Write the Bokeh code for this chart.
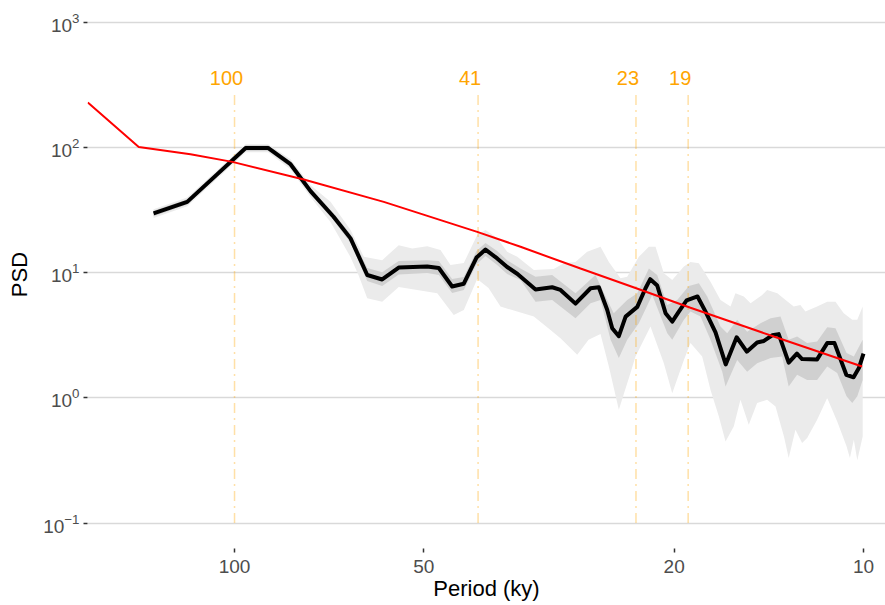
from bokeh.core.properties import value
from bokeh.embed import file_html
from bokeh.models import FixedTicker, PrintfTickFormatter, Range1d
from bokeh.plotting import figure
from bokeh.resources import INLINE

# spectral estimate (period in ky, PSD)
black_period = [134.5, 118.9, 106.8, 96.0, 88.46, 81.47, 75.71, 69.59, 65.39, 61.52,
                58.24, 54.82, 49.39, 47.34, 45.08, 43.20, 41.24, 39.90, 38.23, 36.86,
                35.49, 33.22, 31.26, 30.32, 28.70, 27.16, 26.35, 25.55, 25.09, 24.49,
                23.89, 22.89, 22.21, 21.83, 21.28, 20.64, 20.14, 19.66, 19.11, 18.36,
                17.83, 17.19, 16.56, 15.91, 15.33, 14.76, 14.40, 13.97, 13.64, 13.15,
                12.76, 12.52, 11.85, 11.42, 11.12, 10.65, 10.37, 10.17, 10.0]
black_psd = [29.8, 36.8, 60.5, 99.3, 99.3, 73.6, 44.8, 28.0, 18.8, 9.59,
             8.83, 11.0, 11.2, 10.9, 7.76, 8.17, 13.2, 15.3, 13.0, 11.1,
             9.76, 7.35, 7.65, 7.28, 5.66, 7.51, 7.65, 5.04, 3.60, 3.11,
             4.46, 5.33, 7.51, 8.88, 7.90, 4.75, 4.07, 4.89, 6.00, 6.46,
             4.89, 3.34, 1.85, 3.05, 2.34, 2.77, 2.85, 3.16, 3.23, 1.91,
             2.26, 2.04, 2.03, 2.74, 2.74, 1.53, 1.46, 1.73, 2.26]

# background (red)
red_period = [171.1, 142.0, 117.5, 100.8, 77.6, 57.9, 41.13, 35.10, 28.18, 23.04,
              18.84, 13.89, 10.05]
red_psd = [228.5, 101.1, 88.4, 76.8, 55.6, 36.8, 21.2, 16.1, 10.8, 7.55,
           5.25, 3.09, 1.78]

# outer (light) band
outer_hi_period = [134.5, 118.9, 96.0, 88.46, 81.47, 75.71, 70.37, 65.39, 62.29, 58.24,
                   54.82, 52.18, 49.39, 47.05, 45.36, 43.20, 41.13, 39.90, 38.23, 36.86,
                   35.52, 33.43, 31.08, 29.96, 28.70, 27.50, 26.19, 25.40, 24.34, 23.75,
                   22.76, 21.94, 21.41, 20.77, 20.14, 19.30, 18.84, 18.27, 17.51, 16.88,
                   16.27, 15.98, 15.50, 15.12, 14.49, 14.23, 13.71, 13.30, 12.91, 12.60,
                   12.37, 11.85, 11.42, 11.08, 10.75, 10.42, 10.23, 10.03]
outer_hi_psd = [32.2, 39.8, 106.2, 106.2, 80.7, 50.0, 36.8, 21.9, 13.4, 12.6,
                16.6, 15.6, 16.3, 15.2, 11.5, 11.95, 20.0, 21.9, 18.9, 14.7,
                13.4, 10.5, 10.7, 11.9, 12.2, 14.7, 16.1, 12.2, 9.02, 9.29,
                13.4, 16.1, 16.1, 9.89, 8.75, 11.2, 12.2, 11.9, 8.48, 6.06,
                5.36, 6.85, 6.44, 5.70, 6.64, 7.28, 6.85, 6.06, 5.36, 5.52,
                4.89, 5.36, 5.87, 5.87, 4.75, 4.20, 4.20, 5.36]
outer_lo_period = [134.5, 118.9, 96.0, 88.46, 81.47, 75.71, 70.37, 65.39, 63.52, 61.52,
                   58.24, 54.82, 47.61, 44.82, 43.20, 41.13, 39.46, 37.77, 33.43, 31.45,
                   30.32, 28.52, 27.36, 26.19, 25.40, 24.49, 23.47, 23.04, 21.81, 20.77,
                   20.14, 19.30, 18.84, 18.05, 17.51, 16.98, 16.57, 16.08, 15.69, 15.22,
                   14.76, 14.23, 13.80, 13.38, 13.15, 12.83, 12.52, 12.29, 11.85, 11.42,
                   11.01, 10.64, 10.51, 10.36, 10.23, 10.03]
outer_lo_psd = [27.3, 34.0, 91.7, 91.7, 67.1, 40.2, 25.4, 13.3, 9.59, 6.25,
                5.87, 7.69, 6.85, 4.60, 5.04, 8.91, 7.55, 5.36, 4.46, 3.49,
                3.00, 2.21, 2.91, 3.24, 1.78, 0.804, 1.58, 2.14, 3.71, 1.89,
                1.09, 2.01, 2.74, 2.14, 1.16, 0.711, 0.449, 0.591, 0.966, 0.610,
                0.909, 0.966, 0.854, 0.492, 0.331, 0.557, 0.436, 0.478, 0.669, 0.996,
                0.648, 0.410, 0.331, 0.463, 0.318, 0.492]

# inner (dark) band
inner_hi_period = [134.5, 118.9, 96.0, 88.46, 81.47, 75.71, 69.59, 65.39, 61.52, 58.24,
                   54.82, 49.39, 47.34, 45.08, 43.20, 41.24, 39.90, 38.23, 36.86, 35.10,
                   33.22, 31.26, 28.70, 26.68, 25.55, 24.95, 23.75, 22.89, 21.94, 21.28,
                   20.51, 19.78, 18.95, 18.27, 17.72, 16.88, 16.47, 15.88, 15.31, 14.58,
                   14.05, 13.55, 13.15, 12.75, 12.29, 11.85, 11.42, 11.08, 10.64, 10.36,
                   10.03]
inner_hi_psd = [31.3, 38.7, 104.3, 104.3, 77.8, 47.4, 29.9, 20.4, 10.9, 10.1,
                12.4, 12.6, 12.4, 8.91, 9.24, 14.9, 17.3, 14.9, 12.6, 10.8,
                9.29, 9.59, 6.85, 9.59, 6.06, 4.75, 6.06, 6.85, 10.8, 9.59,
                5.52, 6.06, 7.83, 8.23, 6.44, 3.71, 3.29, 4.20, 3.38, 3.95,
                4.33, 4.46, 2.91, 3.09, 2.74, 2.82, 3.67, 3.60, 2.28, 2.14,
                2.91]
inner_lo_period = [134.5, 118.9, 96.0, 88.46, 81.47, 75.71, 69.59, 65.39, 61.52, 58.24,
                   54.82, 49.39, 47.34, 45.08, 43.20, 41.24, 39.90, 38.23, 36.86, 35.10,
                   33.22, 31.26, 28.70, 27.16, 26.19, 25.24, 24.49, 23.75, 22.76, 21.67,
                   20.51, 20.14, 19.30, 18.84, 18.16, 17.51, 16.77, 16.57, 15.88, 15.31,
                   14.76, 14.05, 13.47, 13.15, 12.75, 12.29, 11.85, 11.42, 11.01, 10.64,
                   10.42, 10.23, 10.03]
inner_lo_psd = [28.3, 35.0, 94.3, 94.3, 69.7, 42.4, 26.3, 17.3, 8.59, 7.83,
                9.67, 9.94, 9.59, 6.89, 7.28, 11.7, 13.6, 11.5, 9.76, 8.75,
                5.87, 6.06, 4.33, 5.70, 6.06, 2.91, 2.08, 2.91, 3.95, 6.64,
                3.29, 2.91, 4.20, 4.89, 4.46, 2.91, 1.62, 1.23, 2.01, 1.62,
                1.89, 2.08, 2.14, 1.23, 1.53, 1.39, 1.39, 1.78, 1.58, 1.03,
                0.909, 1.03, 1.39]

# orbital periods marked
marker_periods = [100, 41, 23, 19]
marker_labels = ["100", "41", "23", "19"]

x_ticks = [100, 50, 20, 10]
y_ticks = [0.1, 1, 10, 100, 1000]

FONT = "Liberation Sans"
MARKER_BOTTOM = 0.1
MARKER_TOP = 285
LABEL_Y = 357

p = figure(
    width=885,
    height=603,
    x_axis_type="log",
    y_axis_type="log",
    x_range=Range1d(171.3, 9.226),
    y_range=Range1d(0.0626, 1495),
    x_axis_label="Period (ky)",
    y_axis_label="PSD",
    output_backend="svg",
    toolbar_location=None,
    min_border_left=87,
    min_border_right=0,
    min_border_top=0,
    min_border_bottom=54,
)
p.outline_line_color = None

p.xaxis.ticker = FixedTicker(ticks=x_ticks)
p.xaxis.formatter = PrintfTickFormatter(format="%d")
p.yaxis.ticker = FixedTicker(ticks=y_ticks)
p.xgrid.visible = False
p.ygrid.ticker = FixedTicker(ticks=y_ticks)
p.ygrid.grid_line_color = "#d9d9d9"
p.ygrid.grid_line_width = 1.6

for ax in (p.xaxis[0], p.yaxis[0]):
    ax.axis_line_color = None
    ax.major_tick_line_color = "#333333"
    ax.major_tick_line_width = 1.5
    ax.major_tick_out = 4
    ax.major_tick_in = 0
    ax.minor_tick_line_color = None
    ax.major_label_text_font = FONT
    ax.major_label_text_font_size = "19px"
    ax.major_label_text_color = "#4d4d4d"
    ax.axis_label_text_font = FONT
    ax.axis_label_text_font_size = "22px"
    ax.axis_label_text_font_style = "normal"
    ax.axis_label_text_color = "black"
p.xaxis.major_label_standoff = 7
p.xaxis.axis_label_standoff = 0
p.yaxis.major_label_standoff = 4
p.yaxis.axis_label_standoff = 8

p.patch(outer_hi_period + outer_lo_period[::-1], outer_hi_psd + outer_lo_psd[::-1],
        fill_color="#ebebeb", line_color=None)
p.patch(inner_hi_period + inner_lo_period[::-1], inner_hi_psd + inner_lo_psd[::-1],
        fill_color="#d0d0d0", line_color=None)

p.segment(x0=marker_periods, y0=[MARKER_BOTTOM] * 4, x1=marker_periods, y1=[MARKER_TOP] * 4,
          line_color="orange", line_alpha=0.35, line_width=1.5, line_dash="10 5 2 5")
p.text(x=marker_periods, y=[LABEL_Y] * 4, text=marker_labels, text_color="orange",
       text_font=value(FONT), text_font_size="20px", text_align="center",
       text_baseline="alphabetic", x_offset=-8)

p.line(black_period, black_psd, line_color="black", line_width=4, line_join="round")
p.line(red_period, red_psd, line_color="red", line_width=2)

open("out.html", "w").write(file_html(p, INLINE))
